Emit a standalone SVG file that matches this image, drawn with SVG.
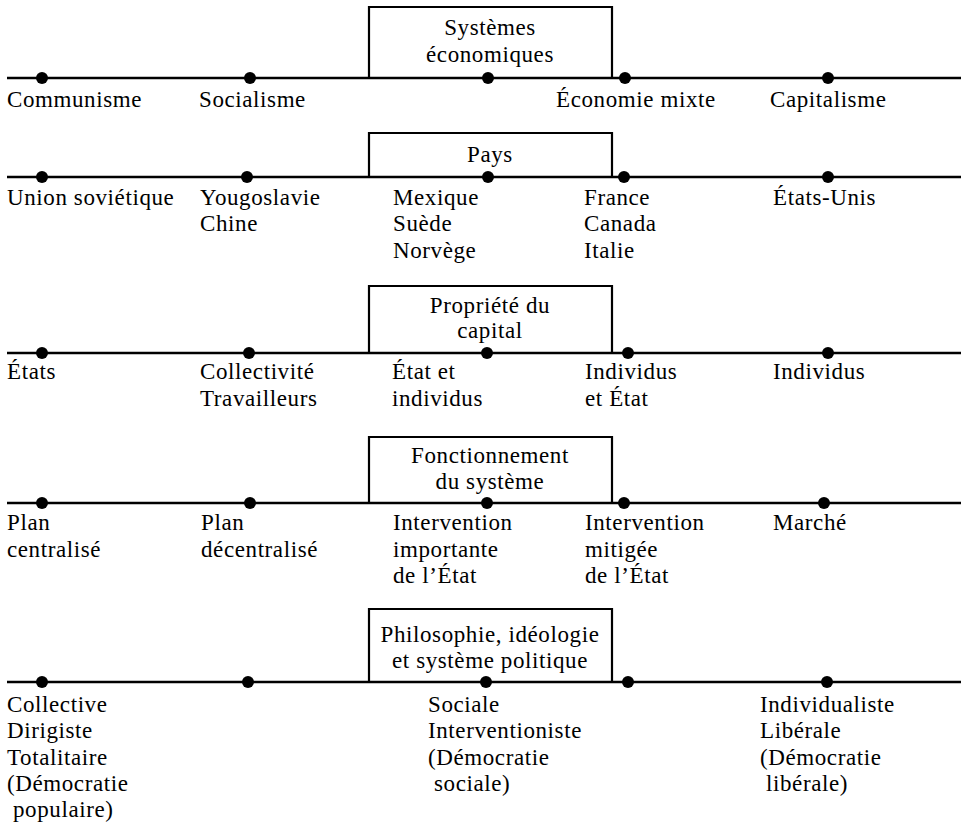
<svg xmlns="http://www.w3.org/2000/svg" width="967" height="827" viewBox="0 0 967 827">
  <style>
    .axis { stroke: #000; stroke-width: 2.4; fill: none; }
    .frame { stroke: #000; stroke-width: 2.2; fill: none; }
    .dot { fill: #000; }
    text { font-family: "Liberation Serif", "Times New Roman", serif; font-size: 23px; letter-spacing: 0.6px; fill: #000; }
    .title { text-anchor: middle; }
  </style>
  <rect width="967" height="827" fill="#fff"/>

  <!-- Horizontal scales with title frames -->
  <g id="connectors">
    <line class="axis" x1="7" y1="78" x2="961" y2="78"/>
    <line class="axis" x1="7" y1="177" x2="961" y2="177"/>
    <line class="axis" x1="7" y1="353" x2="961" y2="353"/>
    <line class="axis" x1="7" y1="503" x2="961" y2="503"/>
    <line class="axis" x1="7" y1="682" x2="961" y2="682"/>
  </g>

  <!-- Scale 1: economic systems -->
  <g id="systemes">
    <polyline class="frame" points="369,78 369,7 612,7 612,78"/>
    <text class="title" x="490" y="35">Systèmes</text>
    <text class="title" x="490" y="62">économiques</text>
    <circle class="dot" cx="42" cy="78" r="6"/>
    <circle class="dot" cx="250" cy="78" r="6"/>
    <circle class="dot" cx="488" cy="78" r="6"/>
    <circle class="dot" cx="625" cy="78" r="6"/>
    <circle class="dot" cx="828" cy="78" r="6"/>
    <text x="7" y="107">Communisme</text>
    <text x="199" y="107">Socialisme</text>
    <text x="556" y="107">Économie mixte</text>
    <text x="770" y="107">Capitalisme</text>
  </g>

  <!-- Scale 2: countries -->
  <g id="pays">
    <polyline class="frame" points="369,177 369,133 612,133 612,177"/>
    <text class="title" x="490" y="162">Pays</text>
    <circle class="dot" cx="42" cy="177" r="6"/>
    <circle class="dot" cx="247" cy="177" r="6"/>
    <circle class="dot" cx="488" cy="177" r="6"/>
    <circle class="dot" cx="624" cy="177" r="6"/>
    <circle class="dot" cx="828" cy="177" r="6"/>
    <text x="7" y="205">Union soviétique</text>
    <text x="200" y="205">Yougoslavie</text>
    <text x="200" y="231">Chine</text>
    <text x="393" y="205">Mexique</text>
    <text x="393" y="231">Suède</text>
    <text x="393" y="258">Norvège</text>
    <text x="584" y="205">France</text>
    <text x="584" y="231">Canada</text>
    <text x="584" y="258">Italie</text>
    <text x="773" y="205">États-Unis</text>
  </g>

  <!-- Scale 3: ownership of capital -->
  <g id="propriete">
    <polyline class="frame" points="369,353 369,286 612,286 612,353"/>
    <text class="title" x="490" y="313">Propriété du</text>
    <text class="title" x="490" y="338">capital</text>
    <circle class="dot" cx="42" cy="353" r="6"/>
    <circle class="dot" cx="249" cy="353" r="6"/>
    <circle class="dot" cx="487" cy="353" r="6"/>
    <circle class="dot" cx="628" cy="353" r="6"/>
    <circle class="dot" cx="828" cy="353" r="6"/>
    <text x="7" y="379">États</text>
    <text x="200" y="379">Collectivité</text>
    <text x="200" y="406">Travailleurs</text>
    <text x="392" y="379">État et</text>
    <text x="392" y="406">individus</text>
    <text x="585" y="379">Individus</text>
    <text x="585" y="406">et État</text>
    <text x="773" y="379">Individus</text>
  </g>

  <!-- Scale 4: how the system works -->
  <g id="fonctionnement">
    <polyline class="frame" points="369,503 369,437 612,437 612,503"/>
    <text class="title" x="490" y="463">Fonctionnement</text>
    <text class="title" x="490" y="489">du système</text>
    <circle class="dot" cx="42" cy="503" r="6"/>
    <circle class="dot" cx="250" cy="503" r="6"/>
    <circle class="dot" cx="487" cy="503" r="6"/>
    <circle class="dot" cx="624" cy="503" r="6"/>
    <circle class="dot" cx="824" cy="503" r="6"/>
    <text x="7" y="530">Plan</text>
    <text x="7" y="557">centralisé</text>
    <text x="201" y="530">Plan</text>
    <text x="201" y="557">décentralisé</text>
    <text x="393" y="530">Intervention</text>
    <text x="393" y="557">importante</text>
    <text x="393" y="583">de l’État</text>
    <text x="585" y="530">Intervention</text>
    <text x="585" y="557">mitigée</text>
    <text x="585" y="583">de l’État</text>
    <text x="773" y="530">Marché</text>
  </g>

  <!-- Scale 5: philosophy, ideology and political system -->
  <g id="philosophie">
    <polyline class="frame" points="369,682 369,609 612,609 612,682"/>
    <text class="title" x="490" y="642">Philosophie, idéologie</text>
    <text class="title" x="490" y="668">et système politique</text>
    <circle class="dot" cx="42" cy="682" r="6"/>
    <circle class="dot" cx="248" cy="682" r="6"/>
    <circle class="dot" cx="486" cy="682" r="6"/>
    <circle class="dot" cx="628" cy="682" r="6"/>
    <circle class="dot" cx="827" cy="682" r="6"/>
    <text x="7" y="712">Collective</text>
    <text x="7" y="738">Dirigiste</text>
    <text x="7" y="765">Totalitaire</text>
    <text x="7" y="791">(Démocratie</text>
    <text x="13" y="817">populaire)</text>
    <text x="428" y="712">Sociale</text>
    <text x="428" y="738">Interventioniste</text>
    <text x="428" y="765">(Démocratie</text>
    <text x="434" y="791">sociale)</text>
    <text x="760" y="712">Individualiste</text>
    <text x="760" y="738">Libérale</text>
    <text x="760" y="765">(Démocratie</text>
    <text x="766" y="791">libérale)</text>
  </g>
</svg>
